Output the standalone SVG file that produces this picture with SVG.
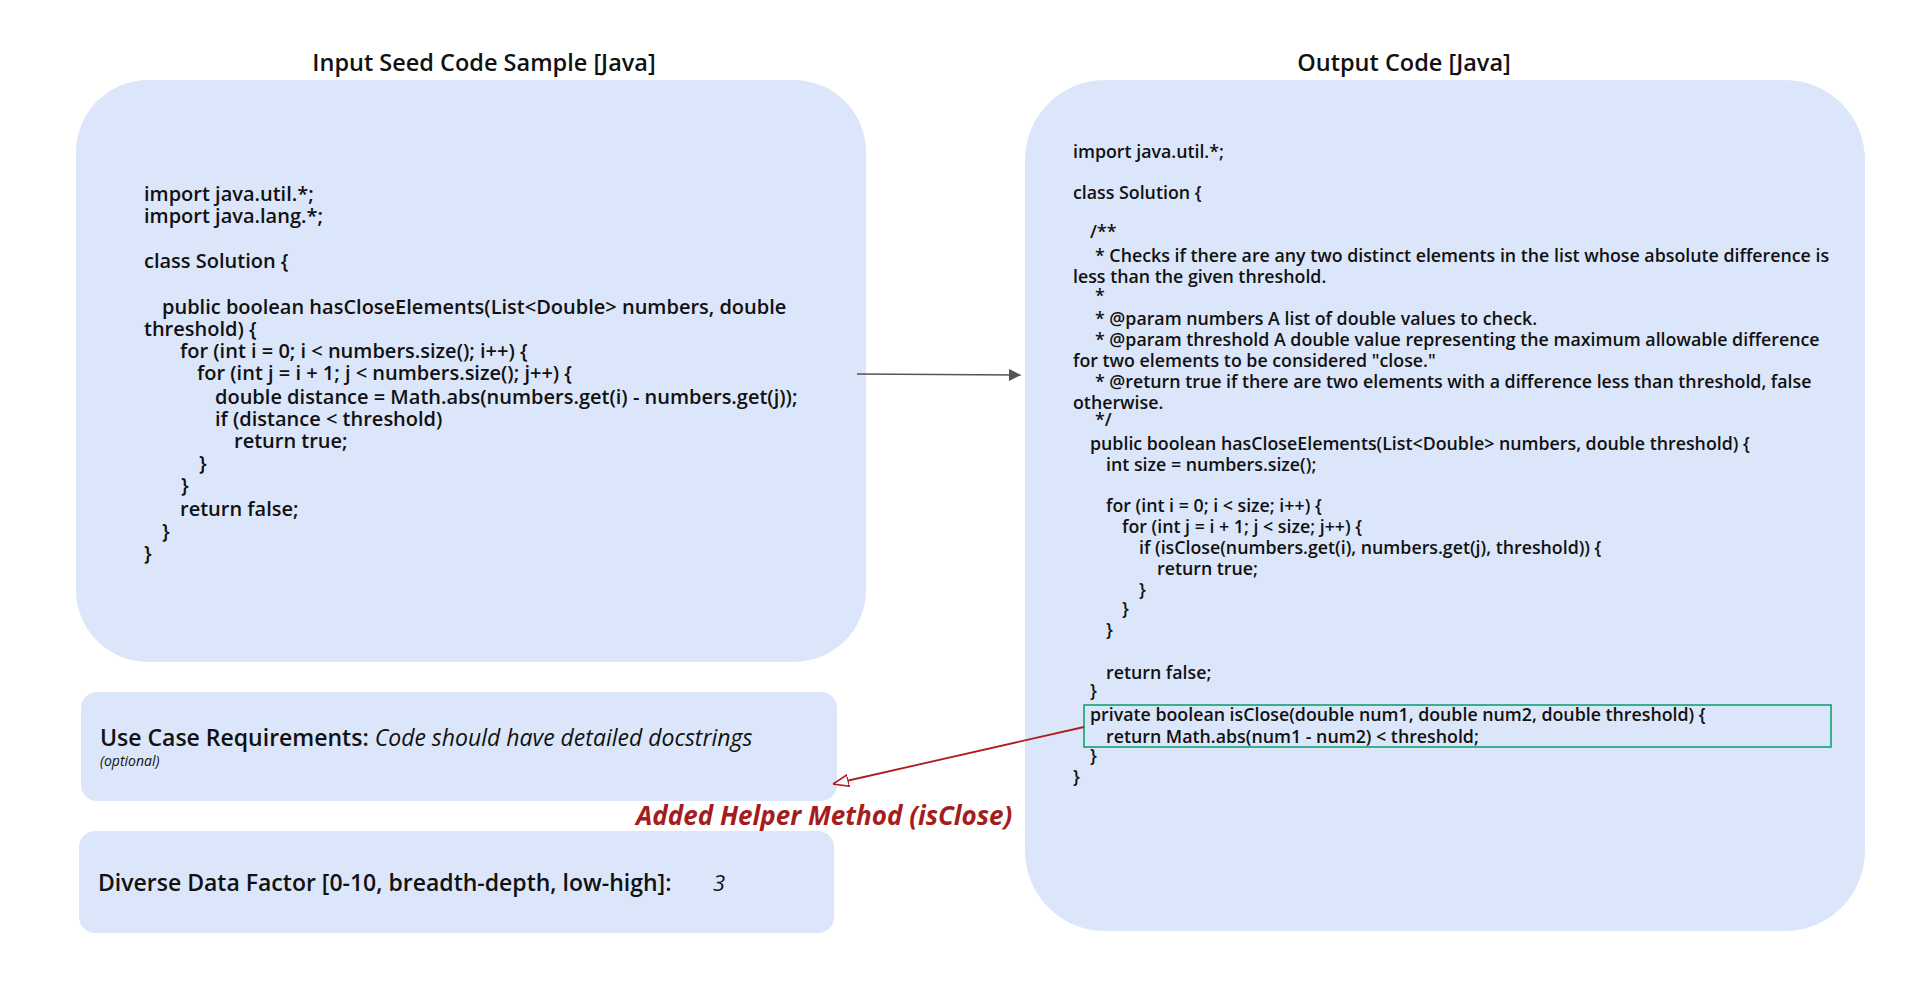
<svg xmlns="http://www.w3.org/2000/svg" width="1920" height="982" viewBox="0 0 1920 982">
<style>
.box{fill:#dce6fa}
.t{font-family:"Open Sans","Liberation Sans",sans-serif;font-weight:600;fill:#111}
.h{font-size:23.5px}
.cl{font-size:20px;white-space:pre}
.cr{font-size:17.8px;white-space:pre}
</style>
<defs>
<marker id="ag" viewBox="0 0 10 10" refX="10" refY="5" markerWidth="12" markerHeight="12" orient="auto" markerUnits="userSpaceOnUse"><path d="M0,0 L10,5 L0,10 z" fill="#555"/></marker>
<marker id="ar" viewBox="0 0 12 10" refX="12" refY="5" markerWidth="16" markerHeight="13" orient="auto" markerUnits="userSpaceOnUse"><path d="M0,0.5 L12,5 L0,9.5 z" fill="#fff" stroke="#b01c1c" stroke-width="1.3"/></marker>
</defs>
<rect width="1920" height="982" fill="#fff"/>
<g id="input">
<rect class="box" x="76" y="80" width="790" height="582" rx="72"/>
<text class="t h" x="484" y="71" text-anchor="middle">Input Seed Code Sample  [Java]</text>
<text class="t cl" x="144" y="201">import java.util.*;</text>
<text class="t cl" x="144" y="223">import java.lang.*;</text>
<text class="t cl" x="144" y="268">class Solution {</text>
<text class="t cl" x="162" y="314">public boolean hasCloseElements(List&lt;Double&gt; numbers, double</text>
<text class="t cl" x="144" y="336">threshold) {</text>
<text class="t cl" x="180" y="358">for (int i = 0; i &lt; numbers.size(); i++) {</text>
<text class="t cl" x="197" y="380">for (int j = i + 1; j &lt; numbers.size(); j++) {</text>
<text class="t cl" x="215" y="404">double distance = Math.abs(numbers.get(i) - numbers.get(j));</text>
<text class="t cl" x="215" y="426">if (distance &lt; threshold)</text>
<text class="t cl" x="234" y="448">return true;</text>
<text class="t cl" x="199" y="470">}</text>
<text class="t cl" x="181" y="492">}</text>
<text class="t cl" x="180" y="516">return false;</text>
<text class="t cl" x="162" y="538">}</text>
<text class="t cl" x="144" y="560">}</text>
</g>
<g id="usecase">
<rect class="box" x="81" y="692" width="756" height="109" rx="16"/>
<text class="t" x="100" y="746" style="font-size:23px">Use Case Requirements: <tspan style="font-style:italic;font-weight:400">Code should have detailed docstrings</tspan></text>
<text class="t" x="100" y="766" style="font-size:14px;font-style:italic;font-weight:400">(optional)</text>
</g>
<g id="diverse">
<rect class="box" x="79" y="831" width="755" height="102" rx="16"/>
<text class="t" x="98" y="891" style="font-size:23px">Diverse Data Factor [0-10, breadth-depth, low-high]:</text>
<text class="t" x="713" y="891" style="font-size:22px;font-style:italic;font-weight:400">3</text>
</g>
<g id="output">
<rect class="box" x="1025" y="80" width="840" height="851" rx="80"/>
<text class="t h" x="1404" y="71" text-anchor="middle">Output Code [Java]</text>
<text class="t cr" x="1073" y="158">import java.util.*;</text>
<text class="t cr" x="1073" y="199">class Solution {</text>
<text class="t cr" x="1090" y="238">/**</text>
<text class="t cr" x="1095" y="262">* Checks if there are any two distinct elements in the list whose absolute difference is</text>
<text class="t cr" x="1073" y="283">less than the given threshold.</text>
<text class="t cr" x="1095" y="302">*</text>
<text class="t cr" x="1095" y="325">* @param numbers A list of double values to check.</text>
<text class="t cr" x="1095" y="346">* @param threshold A double value representing the maximum allowable difference</text>
<text class="t cr" x="1073" y="367">for two elements to be considered "close."</text>
<text class="t cr" x="1095" y="388">* @return true if there are two elements with a difference less than threshold, false</text>
<text class="t cr" x="1073" y="409">otherwise.</text>
<text class="t cr" x="1095" y="426">*/</text>
<text class="t cr" x="1090" y="450">public boolean hasCloseElements(List&lt;Double&gt; numbers, double threshold) {</text>
<text class="t cr" x="1106" y="471">int size = numbers.size();</text>
<text class="t cr" x="1106" y="512">for (int i = 0; i &lt; size; i++) {</text>
<text class="t cr" x="1122" y="533">for (int j = i + 1; j &lt; size; j++) {</text>
<text class="t cr" x="1139" y="554">if (isClose(numbers.get(i), numbers.get(j), threshold)) {</text>
<text class="t cr" x="1157" y="575">return true;</text>
<text class="t cr" x="1139" y="596">}</text>
<text class="t cr" x="1122" y="615">}</text>
<text class="t cr" x="1106" y="636">}</text>
<text class="t cr" x="1106" y="679">return false;</text>
<text class="t cr" x="1090" y="697">}</text>
<text class="t cr" x="1090" y="721">private boolean isClose(double num1, double num2, double threshold) {</text>
<text class="t cr" x="1106" y="743">return Math.abs(num1 - num2) &lt; threshold;</text>
<text class="t cr" x="1090" y="762">}</text>
<text class="t cr" x="1073" y="783">}</text>
<rect x="1084" y="705" width="747" height="42" fill="none" stroke="#2aa87e" stroke-width="1.8"/>
</g>
<g id="connectors">
<line x1="857" y1="374" x2="1021" y2="375" stroke="#555" stroke-width="1.5" marker-end="url(#ag)"/>
<line x1="1084" y1="727" x2="833" y2="784" stroke="#b01c1c" stroke-width="1.8" marker-end="url(#ar)"/>
<text x="636" y="825" style="font-family:'Open Sans','Liberation Sans',sans-serif;font-size:26px;font-weight:700;font-style:italic;fill:#a51c1c">Added Helper Method (isClose)</text>
</g>
</svg>
